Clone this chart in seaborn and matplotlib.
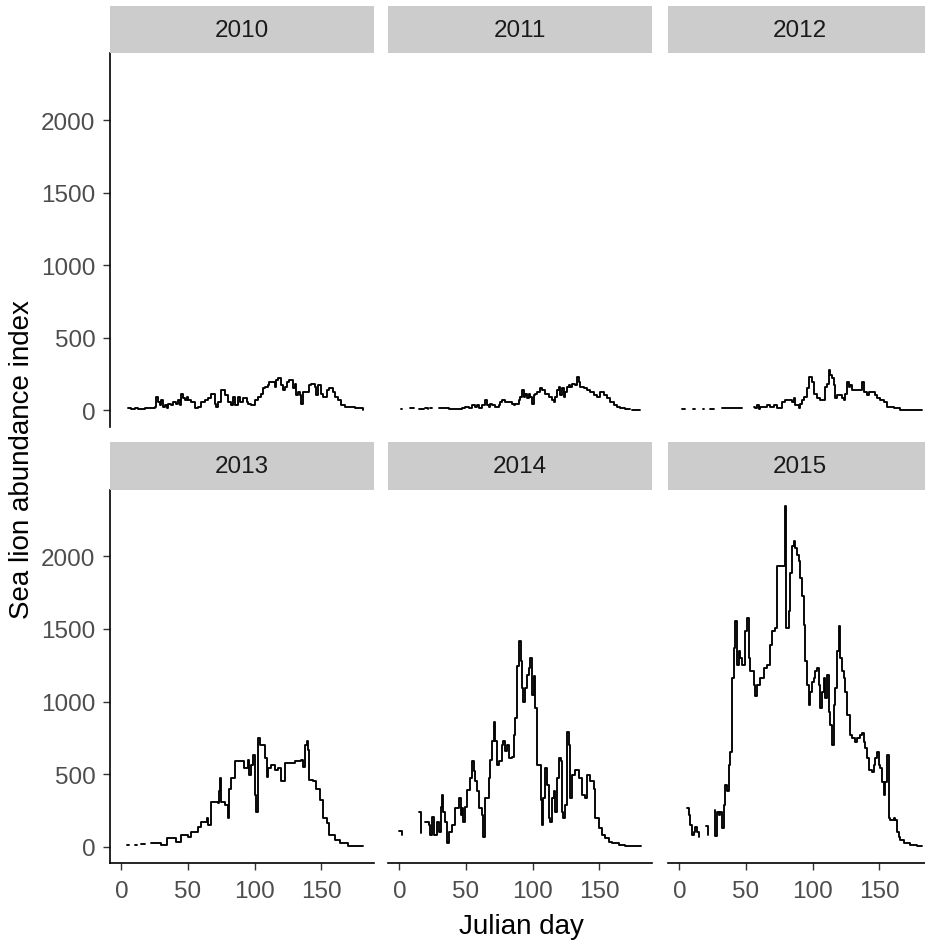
import numpy as np
import pandas as pd
import matplotlib
matplotlib.use("Agg")
import matplotlib.pyplot as plt
import seaborn as sns

nan = np.nan

years = [2010, 2011, 2012, 2013, 2014, 2015]
x_ticks = [0, 50, 100, 150]
y_ticks = [0, 500, 1000, 1500, 2000]
x_label = "Julian day"
y_label = "Sea lion abundance index"

# ---- data (nan marks a gap in the record) ----
days_2010 = [5, 7.5, 10, 12.5, 15, 17.5, 25, 26, 27.5, 29,
             30, 31, 32.5, 34, 35, 37.5, 39, 41, 42.5, 44,
             45, 46, 47.5, 49, 50, 52.5, 55, 57.5, 60, 62.5,
             65, 67.5, 70, 71, 72.5, 75, 77.5, 80, 82.5, 84,
             85, 87.5, 89, 91, 94, 95, 97.5, 100, 102.5, 105,
             106, 107.5, 110, 111, 114, 115, 116, 117.5, 120, 121,
             122.5, 124, 125, 126, 129, 130, 131, 132.5, 134, 135,
             136, 139, 141, 142.5, 145, 146, 147.5, 150, 151, 154,
             156, 159, 160, 162.5, 165, 167.5, 171, 175, 181]
vals_2010 = [12, 5, 12, 5, 5, 16, 23, 92, 58, 35,
             69, 23, 35, 12, 46, 35, 58, 46, 69, 35,
             115, 81, 69, 92, 69, 58, 12, 23, 58, 69,
             81, 115, 46, 23, 58, 138, 104, 58, 35, 92,
             35, 92, 58, 81, 58, 46, 35, 69, 92, 115,
             150, 161, 173, 196, 196, 161, 207, 219, 173, 138,
             161, 196, 196, 207, 150, 184, 104, 127, 104, 46,
             127, 127, 173, 184, 161, 104, 173, 115, 92, 138,
             150, 127, 92, 69, 35, 23, 23, 12, 3]

days_2011 = [1.25, 2, 5, 8.25, 10.75, 12, 14.5, 18.25, 19, 19.5,
             21.5, 22.5, 23.25, 24.5, 27, 29.5, 35.75, 37, 45.75, 47,
             49.5, 52, 54.5, 57, 58.25, 59.5, 62, 64.5, 65.75, 67,
             68.25, 69.5, 72, 74.5, 75.75, 77, 79.5, 82, 84.5, 85.75,
             87, 89.5, 90.75, 92, 93.25, 94.5, 95.75, 97, 98.25, 99.5,
             100.75, 102, 103.25, 105.75, 107, 109.5, 112, 114.5, 115.75, 117,
             118.25, 119.5, 120.75, 122, 123.25, 124.5, 125.75, 127, 128.25, 129.5,
             132, 133.25, 134.5, 135.75, 138.25, 140.75, 143.25, 145.75, 148.25, 150.75,
             153.25, 155.75, 158.25, 160.75, 163.25, 165.75, 169.5, 173.25, 174, 174.5,
             180.75]
vals_2011 = [8, 8, nan, 12, 12, nan, 5, 5, nan, 12,
             7, nan, 12, 12, nan, 12, 12, 5, 5, 12,
             23, 12, 35, 23, 35, 12, 35, 69, 35, 23,
             46, 35, 23, 35, 58, 69, 58, 58, 46, 35,
             46, 69, 92, 138, 92, 115, 81, 115, 92, 46,
             104, 115, 127, 150, 138, 115, 92, 69, 58, 92,
             138, 161, 104, 150, 92, 127, 161, 173, 161, 184,
             173, 230, 196, 161, 150, 138, 127, 104, 92, 127,
             104, 81, 58, 35, 23, 12, 7, 5, nan, 3,
             3]

days_2012 = [2, 4.5, 7, 10, 11.5, 14, 17.75, 18.75, 21, 23.25,
             25.75, 29, 32, 47, 52, 55.75, 57, 58.25, 59.5, 60.75,
             63.25, 65.75, 68.25, 70.75, 73.25, 75.75, 77, 79.5, 82, 84.5,
             85.75, 87, 89.5, 90.75, 92, 93.25, 95.75, 97, 99.5, 100.75,
             103.25, 105.75, 108.25, 109.5, 110.75, 112, 113.25, 114.5, 115.75, 117,
             118.25, 120.75, 122, 123.25, 124.5, 125.75, 127, 128.25, 129.5, 132,
             134.5, 137, 138.25, 140.75, 142, 144.5, 147, 148.25, 150.75, 153.25,
             155.75, 158.25, 160.75, 165.75, 182]
vals_2012 = [10, 10, nan, 10, 10, nan, 10, 10, nan, 10,
             10, nan, 12, 12, nan, 23, 12, 35, 5, 23,
             23, 35, 23, 35, 12, 12, 58, 69, 69, 58,
             81, 35, 12, 46, 69, 92, 150, 230, 196, 115,
             81, 69, 69, 161, 184, 276, 242, 219, 173, 81,
             104, 104, 81, 69, 115, 196, 161, 173, 138, 138,
             138, 196, 127, 104, 127, 127, 104, 81, 69, 58,
             23, 23, 12, 3, 3]

days_2013 = [4.5, 6, 8, 10, 12, 13.5, 15, 18, 20, 22.5,
             28, 30, 34, 37.5, 41, 45, 50, 52.5, 57.5, 60,
             64, 65, 67.5, 72.5, 73, 74, 75, 77.5, 80, 81,
             82.5, 85, 90, 92, 95, 96, 97.5, 99, 100, 101,
             102.5, 104, 107.5, 109, 110, 112.5, 115, 117.5, 120, 122.5,
             127.5, 130, 135, 136, 137.5, 139, 140, 141, 144, 146,
             149, 151, 154, 156, 160, 164, 170, 181]
vals_2013 = [12, 12, nan, 12, 14, nan, 16, 18, nan, 23,
             23, 12, 62, 57, 35, 80, 69, 103, 138, 172,
             195, 150, 310, 300, 380, 470, 310, 287, 195, 400,
             470, 587, 587, 540, 600, 494, 563, 630, 356, 240,
             750, 700, 610, 480, 540, 563, 529, 540, 450, 575,
             575, 587, 600, 552, 700, 725, 667, 460, 450, 400,
             322, 195, 161, 80, 46, 23, 3, 3]

days_2014 = [-0.5, 2, 8, 14.5, 16.5, 18, 19.5, 22, 23, 24.5,
             26, 28, 29.5, 31, 32, 33, 34.5, 36, 37, 39.5,
             42, 44.5, 46, 47, 48, 49.5, 51, 53, 54.5, 56,
             57, 58, 59.5, 62, 63, 64.5, 67, 68, 69.5, 71,
             72, 73, 74.5, 77, 78, 79.5, 81, 82, 84.5, 86,
             87, 88, 89.5, 91, 92, 93, 94.5, 96, 97, 98,
             99.5, 101, 102, 103, 104.5, 106, 107, 108, 109.5, 111,
             112, 113, 114.5, 116, 117, 118, 119.5, 121, 122, 123,
             124.5, 126, 127, 128, 129.5, 132, 134.5, 137, 139.5, 141,
             143, 146, 147, 149.5, 152, 154.5, 157, 159.5, 164.5, 169.5,
             181]
vals_2014 = [110, 80, nan, 240, 92, nan, 172, 150, 80, 207,
             80, 172, 103, 276, 356, 240, 172, 23, 103, 150,
             265, 333, 218, 265, 172, 276, 391, 470, 587, 518,
             450, 380, 265, 218, 69, 333, 470, 598, 725, 862,
             725, 563, 587, 700, 725, 656, 700, 610, 621, 770,
             885, 1242, 1414, 1276, 1092, 1000, 1092, 1184, 1230, 1300,
             1046, 1173, 954, 563, 563, 322, 150, 333, 540, 425,
             195, 172, 333, 380, 242, 470, 610, 587, 242, 195,
             288, 793, 700, 333, 494, 529, 470, 356, 333, 494,
             450, 400, 195, 126, 80, 57, 35, 23, 12, 3,
             3]

days_2015 = [5.75, 7, 8.25, 9.5, 10.75, 12, 13.25, 14.5, 17, 20.25,
             21.25, 24, 26.75, 27, 28.25, 29.5, 30.75, 32, 33.25, 34.5,
             35.75, 37, 38.25, 39.5, 40.75, 42, 43.25, 44.5, 45.75, 47,
             49.5, 50.75, 52, 53.25, 55.75, 57, 58.25, 60.75, 63.25, 65.75,
             68.25, 69.5, 72, 73.25, 78.25, 79.5, 80.25, 82, 83.25, 84.5,
             85.75, 87, 88.25, 89.5, 90.75, 92, 93.25, 94.5, 95.75, 97,
             98.25, 99.5, 100.75, 102, 103.25, 104.5, 105.75, 107, 108.25, 109.5,
             110.75, 112, 113.25, 114.5, 115.75, 117, 118.25, 119.5, 120.75, 122,
             123.25, 124.5, 125.75, 128.25, 129.5, 130.75, 132, 133.25, 135.75, 137,
             138.25, 139.5, 140.75, 142, 144.5, 145.75, 147, 148.25, 149.5, 150.75,
             152, 153.25, 154.5, 155.75, 157, 158.25, 160.75, 162, 163.25, 164.5,
             165.75, 168.25, 173.25, 178.25, 182]
vals_2015 = [265, 218, 150, 80, 103, 138, 103, 69, nan, 140,
             80, nan, 250, 70, 240, 218, 240, 126, 287, 425,
             380, 563, 655, 1161, 1368, 1552, 1253, 1345, 1300, 1253,
             1483, 1575, 1300, 1207, 1115, 1035, 1115, 1161, 1230, 1253,
             1391, 1483, 1506, 1932, 1932, 2346, 1506, 1621, 1886, 2070,
             2104, 2058, 2012, 1966, 1851, 1725, 1529, 1276, 1115, 977,
             1069, 1138, 1161, 1207, 1230, 1115, 954, 1069, 1161, 1023,
             1184, 931, 839, 701, 977, 1092, 1345, 1518, 1300, 1207,
             1161, 1069, 908, 770, 747, 747, 724, 747, 770, 782,
             724, 678, 610, 529, 517, 563, 610, 655, 563, 540,
             448, 356, 448, 632, 195, 184, 195, 184, 103, 69,
             46, 23, 12, 7, 3]

series = {
    2010: (days_2010, vals_2010),
    2011: (days_2011, vals_2011),
    2012: (days_2012, vals_2012),
    2013: (days_2013, vals_2013),
    2014: (days_2014, vals_2014),
    2015: (days_2015, vals_2015),
}

frames = []
for yr in years:
    d, v = series[yr]
    df = pd.DataFrame({"day": d, "value": v})
    df["seg"] = df["value"].isna().cumsum()
    df = df.dropna()
    df["year"] = yr
    frames.append(df)
data = pd.concat(frames, ignore_index=True)

sns.set_style("white")
plt.rcParams["font.family"] = ["Liberation Sans", "DejaVu Sans"]

W, H = 925, 945
fig = plt.figure(figsize=(W / 100, H / 100), dpi=100)
fig.patch.set_facecolor("white")

col_left = [110, 388, 668]
panel_w = 264
row_top = [54.3, 490.7]
panel_h = 373.6
strip_h = 47.5

tick_kw = dict(length=5, width=1.0, color="#333333", labelsize=17.5,
               labelcolor="#4d4d4d")

for i, yr in enumerate(years):
    r, c = divmod(i, 3)
    left, top = col_left[c], row_top[r]
    ax = fig.add_axes([left / W, 1 - (top + panel_h) / H, panel_w / W, panel_h / H])
    sub = data[data["year"] == yr]
    sns.lineplot(data=sub, x="day", y="value", units="seg", estimator=None,
                 color="black", linewidth=1.35, drawstyle="steps-post",
                 ax=ax, legend=False)
    ax.set_xlim(-8.5, 189.5)
    ax.set_ylim(-115, 2460)
    ax.set_xlabel("")
    ax.set_ylabel("")
    ax.set_facecolor("white")
    for s in ["top", "right"]:
        ax.spines[s].set_visible(False)
    for s in ["left", "bottom"]:
        ax.spines[s].set_color("black")
        ax.spines[s].set_linewidth(1.2)
    ax.set_xticks(x_ticks)
    ax.set_yticks(y_ticks)
    ax.tick_params(axis="x", pad=7, **tick_kw)
    ax.tick_params(axis="y", pad=5.5, **tick_kw)
    if r == 0:
        ax.spines["bottom"].set_visible(False)
        ax.tick_params(axis="x", bottom=False, labelbottom=False)
    else:
        ax.tick_params(axis="x", bottom=True, labelbottom=True)
    if c != 0:
        ax.spines["left"].set_visible(False)
        ax.tick_params(axis="y", left=False, labelleft=False)
    else:
        ax.tick_params(axis="y", left=True, labelleft=True)

    sax = fig.add_axes([left / W, 1 - top / H, panel_w / W, strip_h / H])
    sax.set_facecolor("#cccccc")
    for s in sax.spines.values():
        s.set_visible(False)
    sax.set_xticks([])
    sax.set_yticks([])
    sax.text(0.5, 0.5, str(yr), ha="center", va="center", fontsize=17.5,
             color="#1a1a1a", transform=sax.transAxes)

fig.text(521 / W, 1 - 926.7 / H, x_label, ha="center", va="center",
         fontsize=20, color="black")
fig.text(21.7 / W, 1 - 460 / H, y_label, ha="center", va="center",
         rotation=90, fontsize=20, color="black")

fig.savefig("out.png", dpi=100)
